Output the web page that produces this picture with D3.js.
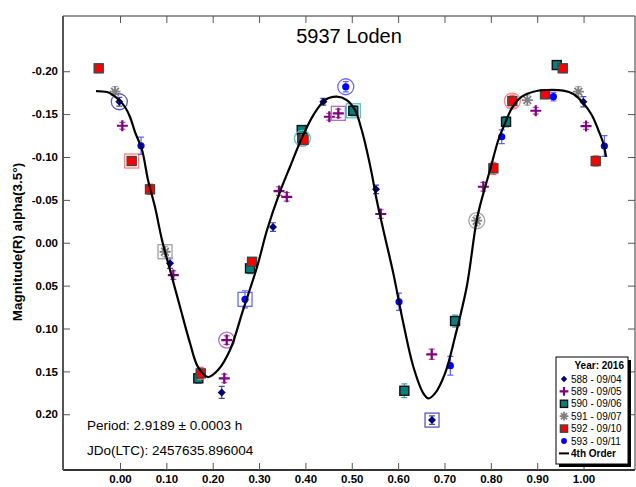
<!DOCTYPE html>
<html>
<head>
<meta charset="utf-8">
<script src="https://cdn.jsdelivr.net/npm/d3@7"></script>
<style>
  html, body { margin: 0; padding: 0; background: #fff; }
  svg { display: block; font-family: Arial, "Liberation Sans", sans-serif; }
</style>
</head>
<body>
<svg id="chart" width="636" height="487"></svg>
<script>
// ---------- DATA (phase, magnitude, error, highlight: 1 = ring, 2 = box) ----------
const title = "5937 Loden";
const yLabel = "Magnitude(R) alpha(3.5°)";
const periodText = "Period: 2.9189 ± 0.0003 h";
const epochText = "JDo(LTC): 2457635.896004";
const legendTitle = "Year: 2016";
const seriesNames = ["588 - 09/04", "589 - 09/05", "590 - 09/06", "591 - 09/07", "592 - 09/10", "593 - 09/11"];
const fitName = "4th Order";
const xTicks = [0, 0.1, 0.2, 0.3, 0.4, 0.5, 0.6, 0.7, 0.8, 0.9, 1.0];
const yTicks = [-0.20, -0.15, -0.10, -0.05, 0.00, 0.05, 0.10, 0.15, 0.20];

const s588 = [
  [-0.0015, -0.1644, 0.005, 1],
  [0.1079, 0.0240, 0.006],
  [0.2194, 0.1745, 0.007],
  [0.3301, -0.0183, 0.005],
  [0.4386, -0.1644, 0.004],
  [0.5523, -0.0623, 0.005],
  [0.6731, 0.2068, 0.005, 2],
  [0.9996, -0.1644, 0.006]
];
const s589 = [
  [0.0050, -0.1364, 0.004],
  [0.1150, 0.0377, 0.005],
  [0.2250, 0.1581, 0.005],
  [0.2302, 0.1135, 0.005, 1],
  [0.3430, -0.0603, 0.005],
  [0.3597, -0.0536, 0.005],
  [0.4516, -0.1469, 0.004],
  [0.4710, -0.1509, 0.005, 2],
  [0.5625, -0.0335, 0.005],
  [0.6725, 0.1301, 0.006],
  [0.7838, -0.0653, 0.005],
  [0.8969, -0.1539, 0.004],
  [1.0054, -0.1361, 0.004]
];
const s590 = [
  [0.1689, 0.1581, 0.006],
  [0.2805, 0.0299, 0.006],
  [0.3920, -0.1314, 0.005],
  [0.3935, -0.1218, 0.006, 1],
  [0.5033, -0.1539, 0.006, 2],
  [0.6134, 0.1726, 0.008],
  [0.7228, 0.0913, 0.007],
  [0.8328, -0.1411, 0.006],
  [0.9422, -0.2072, 0.004]
];
const s591 = [
  [-0.0108, -0.1761, 0.006],
  [0.0971, 0.0105, 0.006, 2],
  [0.7696, -0.0257, 0.006, 1],
  [0.8787, -0.1664, 0.006],
  [0.9888, -0.1761, 0.006]
];
const s592 = [
  [-0.0460, -0.2034, 0.005],
  [0.0252, -0.0953, 0.005, 2],
  [0.0647, -0.0623, 0.006],
  [0.1741, 0.1523, 0.007],
  [0.2848, 0.0222, 0.005],
  [0.3960, -0.1200, 0.006],
  [0.8054, -0.0868, 0.007],
  [0.8464, -0.1652, 0.007, 1],
  [0.9169, -0.1731, 0.005],
  [0.9551, -0.2034, 0.005],
  [1.0263, -0.0953, 0.006]
];
const s593 = [
  [0.0453, -0.1131, 0.010],
  [0.2697, 0.0660, 0.010, 2],
  [0.4870, -0.1819, 0.006, 1],
  [0.6019, 0.0688, 0.010],
  [0.7126, 0.1434, 0.011],
  [0.8235, -0.1236, 0.008],
  [0.9349, -0.1703, 0.005],
  [1.0449, -0.1128, 0.012]
];
// fitted 4th-order curve
const fitPhase = [-0.0518,-0.0280,-0.0151,-0.0022,0.0108,0.0216,0.0324,0.0475,0.0604,0.0755,0.0906,0.1079,0.1294,0.1510,0.1683,0.1899,0.2114,0.2373,0.2654,0.2956,0.3172,0.3452,0.3668,0.3920,0.4171,0.4423,0.4675,0.4891,0.5070,0.5214,0.5322,0.5430,0.5538,0.5681,0.5896,0.6112,0.6328,0.6544,0.6652,0.6796,0.7012,0.7228,0.7480,0.7696,0.7838,0.7983,0.8162,0.8306,0.8451,0.8667,0.8917,0.9206,0.9564,0.9780,0.9996,1.0177,1.0319,1.0427,1.0485];
const fitMag = [-0.1769,-0.1757,-0.1722,-0.1664,-0.1583,-0.1466,-0.1291,-0.1081,-0.0731,-0.0416,-0.0031,0.0318,0.0746,0.1170,0.1450,0.1566,0.1485,0.1251,0.0785,0.0283,-0.0148,-0.0595,-0.0886,-0.1218,-0.1489,-0.1664,-0.1703,-0.1664,-0.1548,-0.1314,-0.1081,-0.0809,-0.0498,-0.0148,0.0357,0.0940,0.1446,0.1756,0.1815,0.1756,0.1523,0.1096,0.0513,-0.0265,-0.0576,-0.0848,-0.1198,-0.1392,-0.1567,-0.1703,-0.1761,-0.1781,-0.1773,-0.1734,-0.1626,-0.1489,-0.1314,-0.1159,-0.1003];

// ---------- STYLE ----------
const styles = [
  { data: s588, shape: "diamond",  fill: "#000080", stroke: "none",    err: "#4a4aa8", hl: "#5858c0" },
  { data: s589, shape: "plus",     fill: "#800080", stroke: "#800080", err: "#b050b0", hl: "#b070c8" },
  { data: s590, shape: "square",   fill: "#008080", stroke: "#111",    err: "#40a8a8", hl: "#60c0c0" },
  { data: s591, shape: "asterisk", fill: "#808080", stroke: "#808080", err: "#b0b0b0", hl: "#a0a0a0" },
  { data: s592, shape: "square",   fill: "#ff0000", stroke: "#444",    err: "#ff6060", hl: "#ff8080" },
  { data: s593, shape: "circle",   fill: "#0000ff", stroke: "none",    err: "#6060ff", hl: "#6868ff" }
];

const svg = d3.select("#chart");
const L = 63, R = 635, T = 16, B = 470;
const x = d3.scaleLinear().domain([-0.123, 1.111]).range([L, R]);
const y = d3.scaleLinear().domain([-0.2644, 0.265]).range([T, B]);
const fmt = v => d3.format(".2f")(v).replace("\u2212", "-");
const FONT = "Arial, 'Liberation Sans', sans-serif";

// frame
svg.append("line").attr("x1", L).attr("x2", R).attr("y1", T).attr("y2", T).attr("stroke", "#333").attr("stroke-width", 1.2);
svg.append("line").attr("x1", L).attr("x2", R).attr("y1", B).attr("y2", B).attr("stroke", "#333").attr("stroke-width", 2);
svg.append("line").attr("x1", L).attr("x2", L).attr("y1", T).attr("y2", B).attr("stroke", "#555").attr("stroke-width", 2);
svg.append("line").attr("x1", R).attr("x2", R).attr("y1", T).attr("y2", B).attr("stroke", "#555").attr("stroke-width", 1.2);

// axes (ticks inward)
function styleAxis(g) {
  g.select(".domain").remove();
  g.selectAll(".tick line").attr("stroke", "#555").attr("stroke-width", 1);
}
const xb = svg.append("g").attr("transform", `translate(0,${B})`)
  .call(d3.axisBottom(x).tickValues(xTicks).tickSize(-7).tickPadding(5).tickFormat(fmt));
styleAxis(xb);
xb.selectAll("text").attr("font-size", 11.5).attr("font-weight", "bold").attr("fill", "#000").attr("font-family", FONT);
const xt = svg.append("g").attr("transform", `translate(0,${T})`)
  .call(d3.axisTop(x).tickValues(xTicks).tickSize(-7).tickFormat(""));
styleAxis(xt);
const yl = svg.append("g").attr("transform", `translate(${L},0)`)
  .call(d3.axisLeft(y).tickValues(yTicks).tickSize(-7).tickPadding(5).tickFormat(fmt));
styleAxis(yl);
yl.selectAll("text").attr("font-size", 11.5).attr("font-weight", "bold").attr("fill", "#000").attr("font-family", FONT);
const yr = svg.append("g").attr("transform", `translate(${R},0)`)
  .call(d3.axisRight(y).tickValues(yTicks).tickSize(-7).tickFormat(""));
styleAxis(yr);

// texts
svg.append("text").attr("x", (L + R) / 2).attr("y", 43).attr("text-anchor", "middle")
  .attr("font-size", 20).attr("fill", "#000").text(title);
svg.append("text").attr("transform", `translate(22,242) rotate(-90)`)
  .attr("text-anchor", "middle").attr("font-size", 13.5).attr("font-weight", "bold").text(yLabel);
svg.append("text").attr("x", 87).attr("y", 430).attr("font-size", 13.5).text(periodText);
svg.append("text").attr("x", 87).attr("y", 455).attr("font-size", 13.5).text(epochText);

// marker drawing
function drawMarker(g, st, cx, cy, scale) {
  const k = scale || 1;
  if (st.shape === "diamond") {
    const r = 4 * k;
    g.append("path").attr("d", `M${cx},${cy - r}L${cx + r},${cy}L${cx},${cy + r}L${cx - r},${cy}Z`).attr("fill", st.fill);
  } else if (st.shape === "plus") {
    const r = 5.5 * k;
    g.append("path").attr("d", `M${cx - r},${cy}H${cx + r}M${cx},${cy - r}V${cy + r}`).attr("stroke", st.fill).attr("stroke-width", 2.2);
  } else if (st.shape === "square") {
    const r = 4.5 * k;
    g.append("rect").attr("x", cx - r).attr("y", cy - r).attr("width", 2 * r).attr("height", 2 * r)
      .attr("fill", st.fill).attr("stroke", st.stroke).attr("stroke-width", 1.4);
  } else if (st.shape === "asterisk") {
    const r = 5.5 * k, d = r * 0.7071;
    g.append("path").attr("d", `M${cx - r},${cy}H${cx + r}M${cx},${cy - r}V${cy + r}M${cx - d},${cy - d}L${cx + d},${cy + d}M${cx - d},${cy + d}L${cx + d},${cy - d}`)
      .attr("stroke", st.fill).attr("stroke-width", 1.8);
  } else if (st.shape === "circle") {
    g.append("circle").attr("cx", cx).attr("cy", cy).attr("r", 3.6 * k).attr("fill", st.fill);
  }
}

const plot = svg.append("g");
styles.forEach(st => {
  const g = plot.append("g");
  st.data.forEach(p => {
    const cx = x(p[0]), cy = y(p[1]);
    const y1 = y(p[1] - p[2]), y2 = y(p[1] + p[2]);
    g.append("path").attr("d", `M${cx},${y1}V${y2}M${cx - 3},${y1}H${cx + 3}M${cx - 3},${y2}H${cx + 3}`)
      .attr("stroke", st.err).attr("stroke-width", 1.2).attr("fill", "none");
    drawMarker(g, st, cx, cy);
    if (p[3] === 1) {
      g.append("circle").attr("cx", cx).attr("cy", cy).attr("r", 8)
        .attr("fill", "none").attr("stroke", st.hl).attr("stroke-width", 1.3);
    } else if (p[3] === 2) {
      g.append("rect").attr("x", cx - 7).attr("y", cy - 7).attr("width", 14).attr("height", 14)
        .attr("fill", "none").attr("stroke", st.hl).attr("stroke-width", 1.3);
    }
  });
});

// fit curve
const fit = fitPhase.map((p, i) => [p, fitMag[i]]);
svg.append("path").datum(fit)
  .attr("d", d3.line().x(d => x(d[0])).y(d => y(d[1])).curve(d3.curveCatmullRom.alpha(0.5)))
  .attr("fill", "none").attr("stroke", "#000").attr("stroke-width", 2.2);

// legend
const lg = svg.append("g");
const lx = 556, ly = 357, lw = 72, lh = 107;
lg.append("rect").attr("x", lx + 3).attr("y", ly + 3).attr("width", lw).attr("height", lh).attr("fill", "#000");
lg.append("rect").attr("x", lx).attr("y", ly).attr("width", lw).attr("height", lh).attr("fill", "#fff").attr("stroke", "#000").attr("stroke-width", 1);
lg.append("text").attr("x", lx + lw - 4).attr("y", ly + 12).attr("text-anchor", "end")
  .attr("font-size", 10).attr("font-weight", "bold").text(legendTitle);
styles.forEach((st, i) => {
  const cy = ly + 22 + i * 12.4;
  drawMarker(lg, st, lx + 8, cy, 0.8);
  lg.append("text").attr("x", lx + 15).attr("y", cy + 3.6).attr("font-size", 10).text(seriesNames[i]);
});
const fy = ly + 22 + 6 * 12.4;
lg.append("line").attr("x1", lx + 3).attr("x2", lx + 13).attr("y1", fy).attr("y2", fy).attr("stroke", "#000").attr("stroke-width", 2);
lg.append("text").attr("x", lx + 15).attr("y", fy + 3.6).attr("font-size", 10).attr("font-weight", "bold").text(fitName);
</script>
</body>
</html>
